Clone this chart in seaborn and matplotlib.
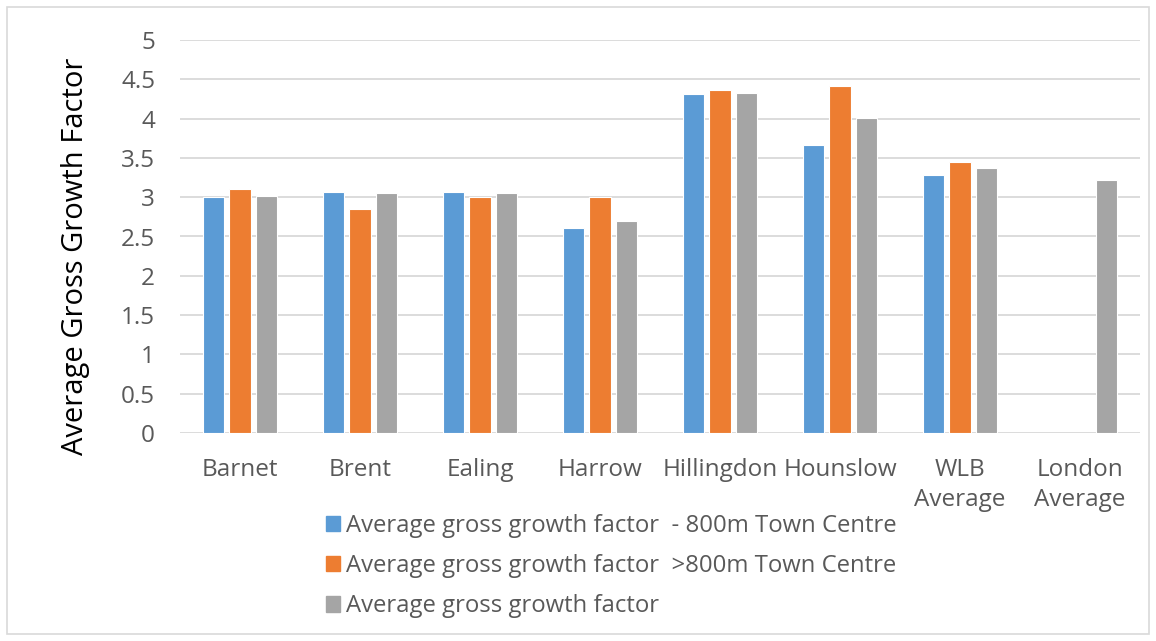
import pandas as pd
import numpy as np
import matplotlib.pyplot as plt
import matplotlib.patches as mpatches
import seaborn as sns

# Valores
areas = ["Barnet", "Brent", "Ealing", "Harrow", "Hillingdon", "Hounslow", "WLB\nAverage", "London\nAverage"]
series = ["Average gross growth factor  - 800m Town Centre",
          "Average gross growth factor  >800m Town Centre",
          "Average gross growth factor"]
within_800m = [3.00, 3.07, 3.06, 2.61, 4.31, 3.66, 3.28, None]
beyond_800m = [3.11, 2.85, 3.00, 3.00, 4.36, 4.41, 3.45, None]
overall = [3.02, 3.05, 3.05, 2.70, 4.33, 4.01, 3.37, 3.22]
y_ticks = [0, 0.5, 1, 1.5, 2, 2.5, 3, 3.5, 4, 4.5, 5]
y_tick_labels = ["0", "0.5", "1", "1.5", "2", "2.5", "3", "3.5", "4", "4.5", "5"]

cores = ["#5B9BD5", "#ED7D31", "#A5A5A5"]
texto_cor = "#595959"

# Monta o DataFrame no formato longo (omite valores ausentes)
linhas = []
for nome, valores in zip(series, [within_800m, beyond_800m, overall]):
    for area, v in zip(areas, valores):
        if v is not None:
            linhas.append({"area": area, "serie": nome, "valor": v})
df = pd.DataFrame(linhas)

sns.set_theme(style="white")
plt.rcParams["font.family"] = ["Open Sans", "DejaVu Sans"]

fig = plt.figure(figsize=(11.56, 6.41), dpi=100)
ax = fig.add_axes([180 / 1156, 1 - 433 / 641, 960 / 1156, 393 / 641])

sns.barplot(data=df, x="area", y="valor", hue="serie", order=areas, hue_order=series,
            palette=cores, saturation=1, width=0.66, gap=0.2, edgecolor="white", linewidth=0.8,
            errorbar=None, ax=ax)

ax.set_ylim(0, 5)
ax.set_xlim(-0.5, len(areas) - 0.5)
ax.set_yticks(y_ticks)
ax.set_yticklabels(y_tick_labels)
ax.yaxis.grid(True, color="#D9D9D9", linewidth=1.3)
ax.set_axisbelow(True)
for lado in ["top", "right", "left", "bottom"]:
    ax.spines[lado].set_visible(False)
ax.tick_params(axis="both", length=0, labelsize=17.5, colors=texto_cor)
ax.tick_params(axis="y", pad=18)
ax.tick_params(axis="x", pad=18)
plt.setp(ax.get_xticklabels(), linespacing=1.35)
ax.set_xlabel("")
ax.set_ylabel("Average Gross Growth Factor", fontsize=21, color="black")
ax.yaxis.set_label_coords(-0.094, 0.45)

# Legenda abaixo do gráfico
ax.get_legend().remove()
handles = [mpatches.Patch(color=c, label=s) for c, s in zip(cores, series)]
leg = fig.legend(handles=handles, loc="upper left", bbox_to_anchor=(314 / 1156, 1 - 502 / 641),
                 frameon=False, fontsize=17.2, handlelength=0.6, handleheight=0.6,
                 handletextpad=0.25, labelspacing=0.68, borderpad=0)
for t in leg.get_texts():
    t.set_color(texto_cor)

# Borda cinza clara em volta da figura
fig.patches.append(mpatches.Rectangle((7 / 1156, 7 / 641), 1 - 14 / 1156, 1 - 14 / 641,
                                      transform=fig.transFigure, fill=False,
                                      edgecolor="#D9D9D9", linewidth=1.2))

fig.savefig("out.png", dpi=100)
